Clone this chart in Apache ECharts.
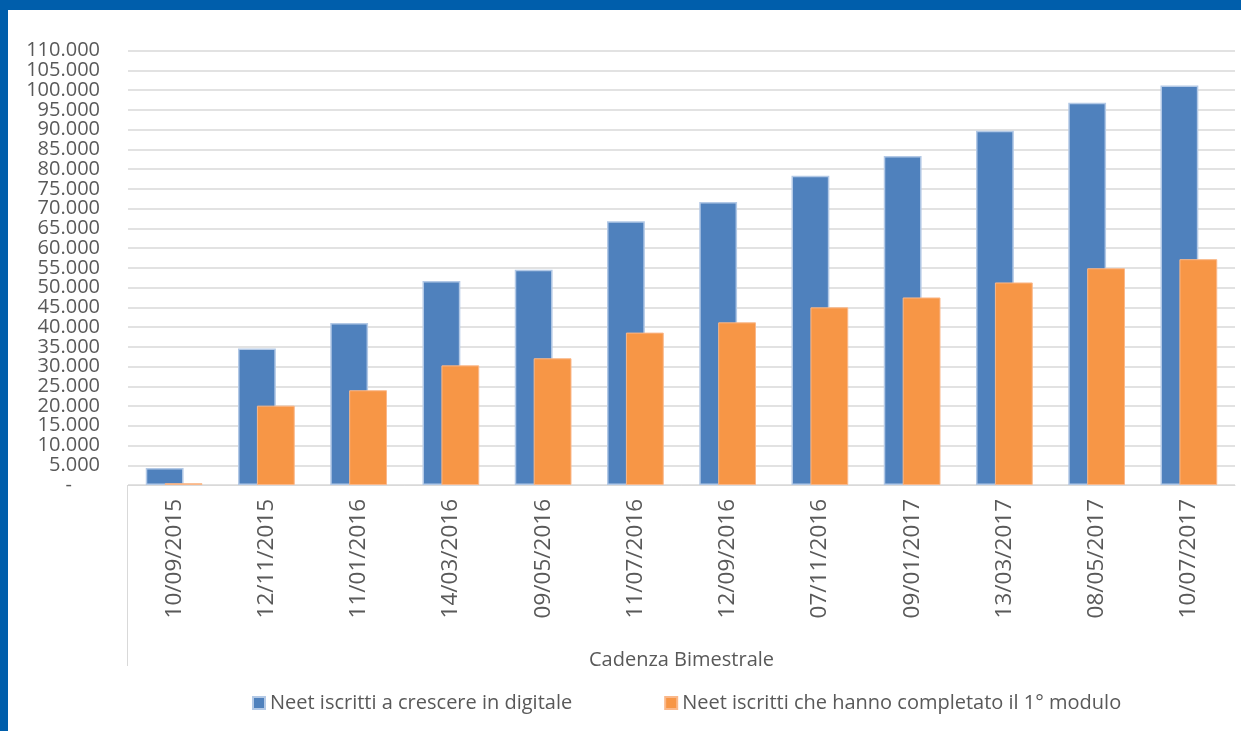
<!DOCTYPE html>
<html>
<head>
<meta charset="utf-8">
<script src="https://cdn.jsdelivr.net/npm/echarts@6/dist/echarts.min.js"></script>
<style>
html,body{margin:0;padding:0;background:#fff;}
#chart{width:1241px;height:731px;}
</style>
</head>
<body>
<div id="chart"></div>
<script>
const categories = ['10/09/2015','12/11/2015','11/01/2016','14/03/2016','09/05/2016','11/07/2016','12/09/2016','07/11/2016','09/01/2017','13/03/2017','08/05/2017','10/07/2017'];
const iscritti = [4300, 34600, 41000, 51700, 54500, 66800, 71700, 78300, 83300, 89700, 96800, 101200];
const completato = [450, 20100, 24000, 30300, 32100, 38600, 41200, 45000, 47500, 51300, 54900, 57200];
const seriesNames = ['Neet iscritti a crescere in digitale', 'Neet iscritti che hanno completato il 1° modulo'];
const axisName = 'Cadenza Bimestrale';
const yMin = 0, yMax = 110000, yStep = 5000;

const chart = echarts.init(document.getElementById('chart'));
const labelFont = 'Open Sans';
const fmt = v => v === 0 ? '{d|-}' : v.toLocaleString('de-DE');
const baseLabel = {
  margin: 28, fontFamily: labelFont, fontSize: 20, color: '#595959', hideOverlap: false,
  rich: {d: {fontFamily: labelFont, fontSize: 20, color: '#595959', padding: [0, 28, 0, 0]}}
};
chart.setOption({
  animation: false,
  grid: {left: 128, right: 6, top: 50.7, bottom: 246, containLabel: false},
  legend: {
    top: 688, left: 247,
    icon: 'rect', itemWidth: 12, itemHeight: 12, itemGap: 92,
    textStyle: {fontFamily: labelFont, fontSize: 20, color: '#595959'},
    data: seriesNames
  },
  xAxis: {
    type: 'category', data: categories,
    axisLine: {show: true, lineStyle: {color: '#D9D9D9', width: 1}},
    axisTick: {show: false},
    axisLabel: {rotate: 90, interval: 0, margin: 14, fontFamily: labelFont, fontSize: 22.5, color: '#595959'},
    name: axisName, nameLocation: 'middle', nameGap: 165,
    nameTextStyle: {fontFamily: labelFont, fontSize: 20, color: '#595959'}
  },
  yAxis: [
    {
      type: 'value', min: yMin, max: yMax, interval: yStep, position: 'left',
      axisLine: {show: false}, axisTick: {show: false},
      splitLine: {lineStyle: {color: '#D9D9D9', width: 1.5}},
      axisLabel: Object.assign({}, baseLabel, {showMinLabel: false, showMaxLabel: false, formatter: fmt})
    },
    {
      type: 'value', min: yMin, max: yMax, interval: yStep, position: 'left',
      axisLine: {show: false}, axisTick: {show: false}, splitLine: {show: false},
      axisLabel: Object.assign({}, baseLabel, {showMinLabel: true, showMaxLabel: true,
        formatter: v => (v === yMin || v === yMax) ? fmt(v) : ''})
    }
  ],
  series: [
    {name: seriesNames[0], type: 'bar', data: iscritti, barWidth: '41%', barGap: '-50%',
     itemStyle: {color: '#4F81BD', borderColor: '#B3C9E6', borderWidth: 1.5}},
    {name: seriesNames[1], type: 'bar', data: completato, barWidth: '41%',
     itemStyle: {color: '#F79646', borderColor: '#FAB88A', borderWidth: 1}}
  ],
  graphic: [
    {type: 'rect', shape: {x: 0, y: 0, width: 1241, height: 10}, style: {fill: '#005EAB'}, z: 100},
    {type: 'rect', shape: {x: 0, y: 0, width: 8, height: 731}, style: {fill: '#005EAB'}, z: 100},
    {type: 'line', shape: {x1: 127.5, y1: 485, x2: 127.5, y2: 666}, style: {stroke: '#D9D9D9', lineWidth: 1}}
  ]
});
</script>
</body>
</html>
